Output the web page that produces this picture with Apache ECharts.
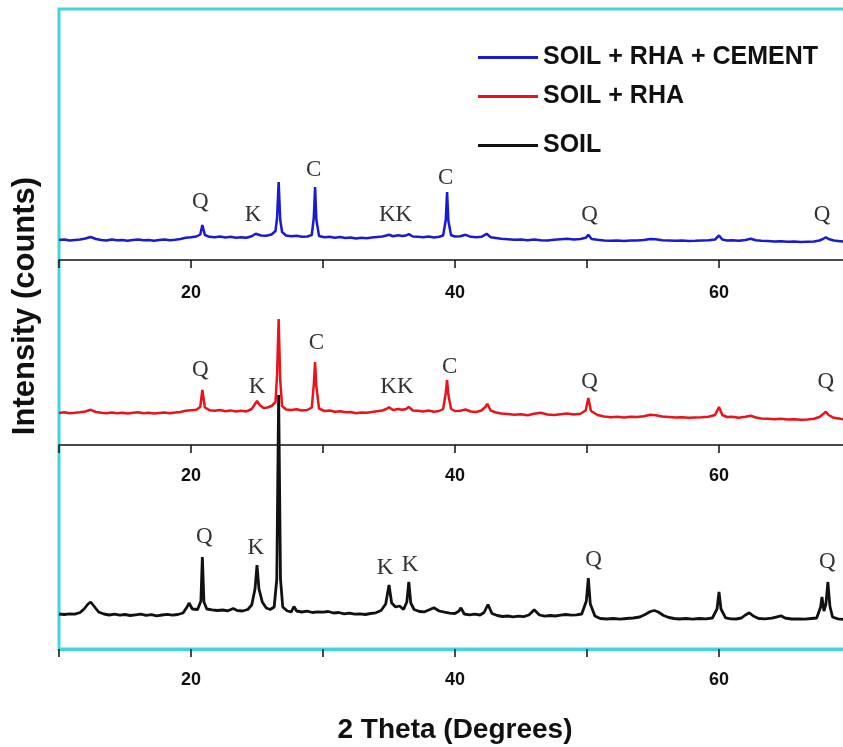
<!DOCTYPE html>
<html>
<head>
<meta charset="utf-8">
<script src="https://cdn.jsdelivr.net/npm/echarts@6/dist/echarts.min.js"></script>
<style>
  html, body { margin: 0; padding: 0; background: #fff; }
  #main { width: 843px; height: 747px; }
</style>
</head>
<body>
<div id="main"></div>
<script>
// 2 theta (deg), intensity (counts)
var soilRhaCement = [
  [10, 200], [10.4, 205], [10.8, 195], [11.2, 200], [11.6, 205], [12.0, 215], [12.4, 230], [12.8, 210],
  [13.2, 200], [13.6, 195], [14.0, 205], [14.4, 198], [14.8, 200], [15.2, 192], [15.6, 200], [16.0, 206],
  [16.4, 198], [16.8, 200], [17.2, 193], [17.6, 200], [18.0, 205], [18.4, 198], [18.8, 203], [19.2, 210],
  [19.6, 222], [20.0, 228], [20.4, 235], [20.7, 255], [20.86, 350], [21.05, 250], [21.4, 232], [21.8, 228],
  [22.2, 235], [22.6, 225], [23.0, 232], [23.4, 222], [23.8, 228], [24.2, 222], [24.6, 238], [24.9, 262],
  [25.05, 272], [25.3, 245], [25.7, 242], [26.1, 255], [26.4, 290], [26.52, 420], [26.64, 780], [26.76, 400],
  [26.9, 280], [27.2, 245], [27.6, 238], [28.0, 242], [28.4, 232], [28.8, 235], [29.15, 250], [29.3, 420],
  [29.4, 730], [29.5, 400], [29.7, 240], [30.1, 228], [30.5, 232], [30.9, 222], [31.3, 230], [31.7, 220],
  [32.1, 225], [32.5, 215], [32.9, 222], [33.3, 218], [33.7, 225], [34.1, 230], [34.5, 235], [34.8, 245],
  [35.0, 252], [35.3, 238], [35.7, 248], [36.0, 240], [36.3, 245], [36.5, 258], [36.8, 235], [37.2, 232],
  [37.6, 228], [38.0, 235], [38.4, 225], [38.8, 232], [39.1, 245], [39.3, 400], [39.4, 680], [39.5, 390],
  [39.7, 248], [40.0, 235], [40.4, 238], [40.8, 252], [41.2, 232], [41.6, 228], [42.0, 232], [42.4, 262],
  [42.7, 228], [43.1, 220], [43.5, 212], [44.0, 208], [44.5, 202], [45.0, 205], [45.5, 198], [46.0, 205],
  [46.5, 198], [47.0, 195], [47.5, 202], [48.0, 208], [48.5, 212], [49.0, 205], [49.5, 210], [49.9, 222],
  [50.1, 252], [50.35, 210], [50.8, 202], [51.3, 195], [51.8, 192], [52.3, 195], [52.8, 190], [53.3, 196],
  [53.8, 195], [54.3, 200], [54.8, 210], [55.2, 208], [55.7, 198], [56.2, 196], [56.7, 192], [57.2, 195],
  [57.7, 190], [58.2, 192], [58.7, 195], [59.2, 198], [59.7, 205], [60.0, 245], [60.25, 205], [60.6, 195],
  [61.0, 198], [61.5, 193], [62.0, 200], [62.4, 212], [62.8, 198], [63.2, 192], [63.7, 190], [64.2, 185],
  [64.7, 188], [65.2, 182], [65.7, 185], [66.2, 180], [66.7, 183], [67.2, 186], [67.6, 195], [67.9, 212],
  [68.1, 228], [68.3, 210], [68.7, 195], [69.2, 188], [69.6, 182], [70, 180]
];
var soilRha = [
  [10, 320], [10.4, 328], [10.8, 318], [11.2, 322], [11.6, 328], [12.0, 335], [12.4, 352], [12.8, 330],
  [13.2, 322], [13.6, 318], [14.0, 325], [14.4, 318], [14.8, 322], [15.2, 316], [15.6, 322], [16.0, 328],
  [16.4, 318], [16.8, 322], [17.2, 314], [17.6, 320], [18.0, 326], [18.4, 318], [18.8, 324], [19.2, 330],
  [19.6, 342], [20.0, 348], [20.4, 352], [20.7, 380], [20.86, 550], [21.05, 375], [21.4, 348], [21.8, 342],
  [22.2, 350], [22.6, 338], [23.0, 346], [23.4, 335], [23.8, 342], [24.2, 336], [24.6, 360], [24.85, 410],
  [25.0, 440], [25.2, 400], [25.5, 370], [25.8, 375], [26.1, 390], [26.4, 430], [26.52, 700], [26.64, 1260],
  [26.76, 650], [26.9, 390], [27.2, 355], [27.6, 350], [28.0, 358], [28.4, 345], [28.8, 350], [29.15, 375],
  [29.3, 600], [29.4, 830], [29.5, 580], [29.7, 365], [30.1, 340], [30.5, 345], [30.9, 332], [31.3, 338],
  [31.7, 328], [32.1, 330], [32.5, 318], [32.9, 325], [33.3, 322], [33.7, 330], [34.1, 338], [34.5, 345],
  [34.8, 360], [35.0, 378], [35.3, 350], [35.7, 360], [36.0, 352], [36.3, 360], [36.5, 382], [36.8, 345],
  [37.2, 342], [37.6, 335], [38.0, 345], [38.4, 332], [38.8, 340], [39.1, 360], [39.3, 520], [39.4, 650],
  [39.5, 500], [39.7, 360], [40.0, 340], [40.4, 342], [40.8, 355], [41.2, 335], [41.6, 330], [42.0, 345],
  [42.3, 380], [42.45, 412], [42.7, 345], [43.1, 325], [43.5, 315], [44.0, 310], [44.5, 302], [45.0, 308],
  [45.5, 298], [46.0, 312], [46.5, 322], [47.0, 305], [47.5, 300], [48.0, 308], [48.5, 315], [49.0, 305],
  [49.5, 312], [49.9, 345], [50.1, 470], [50.3, 340], [50.8, 300], [51.3, 285], [51.8, 278], [52.3, 282],
  [52.8, 275], [53.3, 282], [53.8, 280], [54.3, 288], [54.8, 302], [55.2, 298], [55.7, 285], [56.2, 280],
  [56.7, 275], [57.2, 278], [57.7, 272], [58.2, 275], [58.7, 278], [59.2, 282], [59.7, 300], [60.0, 380],
  [60.25, 300], [60.6, 280], [61.0, 282], [61.5, 272], [62.0, 282], [62.4, 292], [62.8, 275], [63.2, 265],
  [63.7, 262], [64.2, 258], [64.7, 262], [65.2, 255], [65.7, 258], [66.2, 252], [66.7, 256], [67.2, 262],
  [67.6, 280], [67.9, 310], [68.1, 332], [68.3, 300], [68.7, 272], [69.2, 262], [69.6, 255], [70, 250]
];
var soil = [
  [10, 350], [10.4, 345], [10.8, 352], [11.2, 348], [11.6, 365], [11.9, 400], [12.2, 450], [12.4, 470],
  [12.7, 420], [13.0, 370], [13.4, 350], [13.8, 340], [14.2, 348], [14.6, 338], [15.0, 345], [15.4, 335],
  [15.8, 342], [16.2, 348], [16.6, 336], [17.0, 344], [17.4, 332], [17.8, 340], [18.2, 346], [18.6, 338],
  [19.0, 345], [19.4, 360], [19.7, 420], [19.85, 460], [20.1, 400], [20.5, 395], [20.75, 480], [20.86, 920],
  [20.98, 470], [21.2, 400], [21.6, 392], [22.0, 385], [22.4, 390], [22.8, 382], [23.2, 405], [23.5, 385],
  [23.9, 380], [24.3, 395], [24.6, 440], [24.85, 600], [25.0, 840], [25.15, 600], [25.4, 470], [25.7, 410],
  [26.0, 395], [26.3, 420], [26.5, 700], [26.64, 2540], [26.78, 700], [26.95, 420], [27.3, 380], [27.6, 372],
  [27.8, 425], [28.0, 380], [28.4, 370], [28.8, 378], [29.2, 365], [29.6, 372], [30.0, 368], [30.4, 375],
  [30.8, 360], [31.2, 365], [31.6, 352], [32.0, 358], [32.4, 348], [32.8, 352], [33.2, 345], [33.6, 355],
  [34.0, 362], [34.4, 385], [34.75, 450], [35.0, 640], [35.2, 460], [35.5, 420], [35.8, 430], [36.1, 395],
  [36.35, 470], [36.5, 670], [36.65, 460], [36.9, 395], [37.3, 375], [37.7, 372], [38.1, 395], [38.4, 412],
  [38.8, 380], [39.2, 368], [39.6, 358], [40.0, 355], [40.3, 380], [40.45, 412], [40.7, 350], [41.1, 342],
  [41.5, 348], [41.9, 340], [42.2, 365], [42.5, 445], [42.8, 355], [43.2, 335], [43.6, 325], [44.0, 330],
  [44.4, 322], [44.8, 328], [45.2, 324], [45.6, 340], [46.0, 392], [46.4, 340], [46.8, 328], [47.2, 335],
  [47.6, 330], [48.0, 338], [48.4, 345], [48.8, 338], [49.2, 342], [49.6, 350], [49.95, 480], [50.1, 710],
  [50.25, 450], [50.6, 330], [51.0, 305], [51.5, 300], [52.0, 305], [52.5, 298], [53.0, 305], [53.5, 310],
  [54.0, 320], [54.4, 345], [54.8, 375], [55.1, 385], [55.4, 370], [55.8, 335], [56.2, 315], [56.6, 305],
  [57.0, 300], [57.5, 305], [58.0, 298], [58.5, 305], [59.0, 302], [59.5, 310], [59.85, 400], [60.0, 570],
  [60.15, 400], [60.5, 312], [60.9, 302], [61.3, 300], [61.7, 310], [62.0, 340], [62.3, 362], [62.6, 330],
  [63.0, 305], [63.5, 302], [64.0, 308], [64.4, 322], [64.7, 332], [65.0, 310], [65.5, 300], [66.0, 302],
  [66.5, 298], [67.0, 305], [67.4, 310], [67.7, 420], [67.8, 520], [67.95, 380], [68.1, 450], [68.25, 670],
  [68.4, 430], [68.6, 320], [69.0, 302], [69.5, 295], [70, 290]
];

// phase labels: [2theta, height, text]
var cementLabels = [[20.7, 580, 'Q'], [24.7, 450, 'K'], [29.3, 900, 'C'], [35.5, 450, 'KK'],
  [39.3, 820, 'C'], [50.2, 450, 'Q'], [67.8, 450, 'Q']];
var rhaLabels = [[20.7, 750, 'Q'], [25.0, 580, 'K'], [29.5, 1020, 'C'], [35.6, 580, 'KK'],
  [39.6, 780, 'C'], [50.2, 630, 'Q'], [68.1, 630, 'Q']];
var soilLabels = [[21.0, 1120, 'Q'], [24.9, 1010, 'K'], [34.7, 810, 'K'], [36.6, 840, 'K'],
  [50.5, 890, 'Q'], [68.2, 870, 'Q']];

var seriesNames = ['SOIL + RHA + CEMENT', 'SOIL + RHA', 'SOIL'];
var tickLabels = ['20', '40', '60'];

var cyan = '#3fd6de';
var font = '"Liberation Sans", Arial, sans-serif';

function peakMarks(list) {
  return {
    symbol: 'circle',
    symbolSize: 0,
    silent: true,
    label: {
      show: true,
      position: 'inside',
      formatter: function (p) { return p.name; },
      fontFamily: '"Liberation Serif", "Times New Roman", serif',
      fontSize: 23,
      color: '#333'
    },
    data: list.map(function (d) { return { name: d[2], coord: [d[0], d[1]] }; })
  };
}

function xAxisFor(gridIndex, lineColor, lineWidth, margin, withName) {
  var ax = {
    type: 'value',
    gridIndex: gridIndex,
    min: 10,
    max: 70,
    interval: 10,
    axisLine: { lineStyle: { color: lineColor, width: lineWidth } },
    axisTick: { length: 8, lineStyle: { color: '#111', width: 1.5 } },
    splitLine: { show: false },
    axisLabel: {
      margin: margin,
      fontFamily: font,
      fontWeight: 'bold',
      fontSize: 18,
      color: '#111',
      formatter: function (v) {
        return tickLabels.indexOf(String(v)) >= 0 ? String(v) : '';
      }
    }
  };
  if (withName) {
    ax.name = '2 Theta (Degrees)';
    ax.nameLocation = 'middle';
    ax.nameGap = 67;
    ax.nameTextStyle = { fontFamily: font, fontWeight: 'bold', fontSize: 28, color: '#111' };
  }
  return ax;
}

function legendFor(name, top) {
  return {
    data: [name],
    left: 473,
    top: top,
    icon: 'rect',
    itemWidth: 60,
    itemHeight: 3,
    itemGap: 0,
    selectedMode: false,
    textStyle: { fontFamily: font, fontWeight: 'bold', fontSize: 25, color: '#111' }
  };
}

var chart = echarts.init(document.getElementById('main'));

chart.setOption({
  backgroundColor: '#fff',
  animation: false,
  grid: [
    { left: 59, width: 792, top: 10, height: 250, outerBoundsMode: 'none' },
    { left: 59, width: 792, top: 260, height: 185, outerBoundsMode: 'none' },
    { left: 59, width: 792, top: 445, height: 204, outerBoundsMode: 'none' }
  ],
  xAxis: [
    xAxisFor(0, '#111', 1.5, 24, false),
    xAxisFor(1, '#111', 1.5, 22, false),
    xAxisFor(2, cyan, 3, 22, true)
  ],
  yAxis: [
    { type: 'value', gridIndex: 0, min: 0, max: 2500, show: false },
    { type: 'value', gridIndex: 1, min: 0, max: 1850, show: false },
    { type: 'value', gridIndex: 2, min: 0, max: 2040, show: false }
  ],
  legend: [
    legendFor(seriesNames[0], 40),
    legendFor(seriesNames[1], 79),
    legendFor(seriesNames[2], 128)
  ],
  graphic: [
    {
      type: 'rect',
      z: -1,
      shape: { x: 59, y: 9, width: 800, height: 640 },
      style: { fill: null, stroke: cyan, lineWidth: 3 }
    },
    {
      type: 'text',
      x: 25,
      y: 306,
      rotation: Math.PI / 2,
      style: {
        text: 'Intensity (counts)',
        font: 'bold 31px ' + font,
        fill: '#111',
        textAlign: 'center',
        textVerticalAlign: 'middle'
      }
    }
  ],
  series: [
    {
      name: seriesNames[2],
      type: 'line',
      xAxisIndex: 2,
      yAxisIndex: 2,
      data: soil,
      symbol: 'none',
      clip: false,
      z: 2,
      lineStyle: { color: '#111', width: 2.8 },
      itemStyle: { color: '#111' },
      markPoint: peakMarks(soilLabels)
    },
    {
      name: seriesNames[1],
      type: 'line',
      xAxisIndex: 1,
      yAxisIndex: 1,
      data: soilRha,
      symbol: 'none',
      z: 3,
      lineStyle: { color: '#e8141c', width: 2.5 },
      itemStyle: { color: '#e8141c' },
      markPoint: peakMarks(rhaLabels)
    },
    {
      name: seriesNames[0],
      type: 'line',
      xAxisIndex: 0,
      yAxisIndex: 0,
      data: soilRhaCement,
      symbol: 'none',
      z: 3,
      lineStyle: { color: '#1a1ad0', width: 2.5 },
      itemStyle: { color: '#1a1ad0' },
      markPoint: peakMarks(cementLabels)
    }
  ]
});
</script>
</body>
</html>
